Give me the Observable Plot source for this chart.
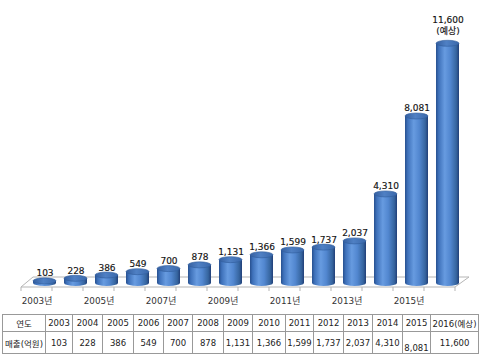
<!DOCTYPE html>
<html>
<head>
<meta charset="utf-8">
<script src="https://cdn.jsdelivr.net/npm/d3@7"></script>
<script src="https://cdn.jsdelivr.net/npm/@observablehq/plot@0.6"></script>
<style>
  html, body { margin: 0; padding: 0; background: #fff; }
  #chart svg { display: block; }
  table.t { border-collapse: collapse; table-layout: fixed; margin: 6px 0 0 2px;
            font-family: "DejaVu Sans", "Noto Sans CJK KR", sans-serif; font-size: 8.5px; color: #222; }
  table.t td { border: 1px solid #999; padding: 0; text-align: center; vertical-align: middle; white-space: nowrap; overflow: visible; }
  table.t tr.h td { height: 16px; }
  table.t tr.d td { height: 21px; }
</style>
</head>
<body>
<div id="chart"></div>
<div id="table"></div>
<script>
// ---- data ----
const years = ["2003","2004","2005","2006","2007","2008","2009","2010","2011","2012","2013","2014","2015","2016"];
const sales = [103, 228, 386, 549, 700, 878, 1131, 1366, 1599, 1737, 2037, 4310, 8081, 11600];
const axisLabels = ["2003년","2005년","2007년","2009년","2011년","2013년","2015년"];
const forecastNote = "(예상)";
const tableHeaderLabel = "연도";
const tableRowLabel = "매출(억원)";
const tableYears = ["2003","2004","2005","2006","2007","2008","2009","2010","2011","2012","2013","2014","2015","2016(예상)"];
const tableValues = ["103","228","386","549","700","878","1,131","1,366","1,599","1,737","2,037","4,310","8,081","11,600"];

const fmt = d3.format(",");
const data = years.map((y, i) => ({year: y, value: sales[i]}));
const actual = data.slice(0, -1);
const forecast = data.slice(-1);
const axisData = axisLabels.map(l => ({year: l.replace("년", ""), label: l}));

const font = "DejaVu Sans, Noto Sans CJK KR, sans-serif";

// floor (3D base) drawn through the scales
function floorMark(index, scales) {
  const x = scales.x, y = scales.y;
  const step = x.step ? x.step() : 31.5;
  const first = x(years[0]) + x.bandwidth() / 2 - step / 2;
  const last = x(years[years.length - 1]) + x.bandwidth() / 2 + step / 2;
  const y0 = y(0);
  const fL = first - 8, fR = last - 8, bL = fL + 12, bR = fR + 14;
  const yf = y0 + 4, yb = y0 - 6;
  const g = d3.create("svg:g");
  g.append("path")
    .attr("d", `M${fL},${yf}L${bL},${yb}L${bR},${yb}L${fR},${yf}Z`)
    .attr("fill", "#fff").attr("stroke", "#b5b5b5").attr("stroke-width", 1);
  for (let i = 0; i <= years.length; i++) {
    const tx = fL + i * step;
    g.append("line").attr("x1", tx).attr("x2", tx).attr("y1", yf).attr("y2", yf + 4)
      .attr("stroke", "#b5b5b5");
  }
  return g.node();
}

const chart = Plot.plot({
  width: 485,
  height: 308,
  marginLeft: 25.75,
  marginRight: 18.25,
  marginTop: 35,
  marginBottom: 25,
  x: {type: "band", domain: years, paddingInner: 0.27, paddingOuter: 0.135, align: 0.5, axis: null},
  y: {domain: [0, 12000], axis: null},
  style: {background: "transparent", fontFamily: font},
  marks: [
    floorMark,
    // bottom cap
    Plot.barY(data, {x: "year", y1: 0, y2: 0, insetTop: -3, insetBottom: -3, rx: 11.5, ry: 3, fill: "url(#cylBody)"}),
    // body
    Plot.barY(data, {x: "year", y1: 0, y2: "value", fill: "url(#cylBody)"}),
    // top cap
    Plot.barY(data, {x: "year", y1: "value", y2: "value", insetTop: -3, insetBottom: -3, rx: 11.5, ry: 3,
      fill: "url(#cylTop)", stroke: "#2f5c9c", strokeWidth: 0.6}),
    // value labels
    Plot.text(actual, {x: "year", y: "value", text: d => fmt(d.value), dy: -5, lineAnchor: "bottom",
      fontSize: 9, fill: "#111", stroke: "#111", strokeWidth: 0.15, fontFamily: font}),
    Plot.text(forecast, {x: "year", y: "value", text: d => fmt(d.value) + "\n" + forecastNote, dy: -10,
      lineAnchor: "bottom", lineHeight: 1.2, fontSize: 9, fill: "#111", stroke: "#111", strokeWidth: 0.15, fontFamily: font}),
    // category axis labels
    Plot.text(axisData, {x: "year", y: 0, text: "label", dy: 18, dx: -8, fontSize: 8.8, fill: "#333", fontFamily: font})
  ]
});

chart.insertAdjacentHTML("afterbegin", `
<defs>
  <linearGradient id="cylBody" x1="0" x2="1" y1="0" y2="0">
    <stop offset="0" stop-color="#27508f"/>
    <stop offset="0.12" stop-color="#3f72bb"/>
    <stop offset="0.38" stop-color="#679be0"/>
    <stop offset="0.62" stop-color="#5287d0"/>
    <stop offset="0.88" stop-color="#36659f"/>
    <stop offset="1" stop-color="#213f78"/>
  </linearGradient>
  <linearGradient id="cylTop" x1="0" x2="1" y1="0" y2="0">
    <stop offset="0" stop-color="#355f9f"/>
    <stop offset="0.45" stop-color="#4f80c4"/>
    <stop offset="1" stop-color="#3a68aa"/>
  </linearGradient>
</defs>`);

document.getElementById("chart").appendChild(chart);

// data table
const colWidths = [43, 27, 30, 31, 30, 29, 31, 29, 33, 28, 30, 29, 30, 28, 48];
const table = document.createElement("table");
table.className = "t";
const cg = document.createElement("colgroup");
colWidths.forEach(w => { const c = document.createElement("col"); c.style.width = w + "px"; cg.appendChild(c); });
table.appendChild(cg);
const trH = document.createElement("tr"); trH.className = "h";
[tableHeaderLabel, ...tableYears].forEach(t => { const td = document.createElement("td"); td.textContent = t; trH.appendChild(td); });
const trD = document.createElement("tr"); trD.className = "d";
[tableRowLabel, ...tableValues].forEach((t, i) => {
  const td = document.createElement("td"); td.textContent = t;
  if (i === 13) { td.style.verticalAlign = "bottom"; }
  trD.appendChild(td);
});
table.appendChild(trH); table.appendChild(trD);
table.style.width = colWidths.reduce((a, b) => a + b, 0) + "px";
document.getElementById("table").appendChild(table);
</script>
</body>
</html>
